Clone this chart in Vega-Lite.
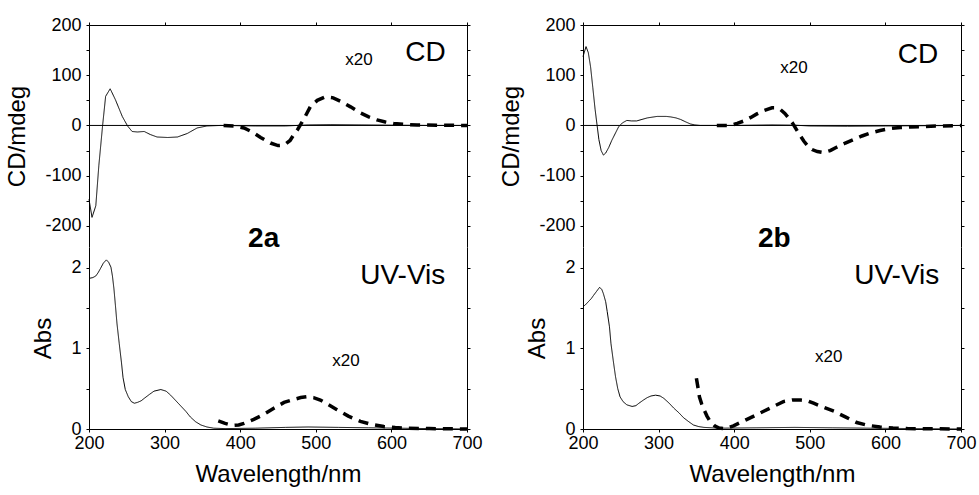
{
  "$schema": "https://vega.github.io/schema/vega-lite/v6.json",
  "background": "white",
  "padding": {"left": 5, "top": 16, "right": 2, "bottom": 5},
  "config": {
    "view": {"stroke": null},
    "font": "Liberation Sans",
    "axis": {"grid": false, "labelFlush": false, "domainColor": "black", "tickColor": "black", "labelColor": "black", "titleColor": "black", "labelFont": "Liberation Sans", "titleFont": "Liberation Sans", "labelFontSize": 18, "titleFontSize": 24, "titleFontWeight": "normal", "tickSize": 3, "domainWidth": 1, "tickWidth": 1},
    "axisX": {"labelPadding": 2, "titlePadding": 10},
    "axisY": {"labelPadding": 5, "titlePadding": 15},
    "concat": {"spacing": 16}
  },
  "datasets": {
    "curves": [
      {"p":"a","sec":"cd","s":"x1","nm":200,"v":-147},{"p":"a","sec":"cd","s":"x1","nm":204,"v":-183},{"p":"a","sec":"cd","s":"x1","nm":209,"v":-160},{"p":"a","sec":"cd","s":"x1","nm":213,"v":-80},{"p":"a","sec":"cd","s":"x1","nm":218,"v":0},{"p":"a","sec":"cd","s":"x1","nm":222,"v":58},{"p":"a","sec":"cd","s":"x1","nm":228,"v":73},{"p":"a","sec":"cd","s":"x1","nm":235,"v":51},{"p":"a","sec":"cd","s":"x1","nm":244,"v":18},{"p":"a","sec":"cd","s":"x1","nm":251,"v":-1},{"p":"a","sec":"cd","s":"x1","nm":257,"v":-12},{"p":"a","sec":"cd","s":"x1","nm":264,"v":-13},{"p":"a","sec":"cd","s":"x1","nm":273,"v":-12},{"p":"a","sec":"cd","s":"x1","nm":281,"v":-18},{"p":"a","sec":"cd","s":"x1","nm":290,"v":-23},{"p":"a","sec":"cd","s":"x1","nm":304,"v":-24},{"p":"a","sec":"cd","s":"x1","nm":317,"v":-23},{"p":"a","sec":"cd","s":"x1","nm":330,"v":-16},{"p":"a","sec":"cd","s":"x1","nm":343,"v":-5},{"p":"a","sec":"cd","s":"x1","nm":356,"v":-1},{"p":"a","sec":"cd","s":"x1","nm":374,"v":0},{"p":"a","sec":"cd","s":"x1","nm":420,"v":-1},{"p":"a","sec":"cd","s":"x1","nm":460,"v":-1},{"p":"a","sec":"cd","s":"x1","nm":490,"v":1},{"p":"a","sec":"cd","s":"x1","nm":520,"v":1.5},{"p":"a","sec":"cd","s":"x1","nm":560,"v":1},{"p":"a","sec":"cd","s":"x1","nm":600,"v":0.5},{"p":"a","sec":"cd","s":"x1","nm":650,"v":0},{"p":"a","sec":"cd","s":"x1","nm":700,"v":0},
      {"p":"a","sec":"cd","s":"x20","nm":378,"v":0},{"p":"a","sec":"cd","s":"x20","nm":392,"v":-1},{"p":"a","sec":"cd","s":"x20","nm":405,"v":-5},{"p":"a","sec":"cd","s":"x20","nm":416,"v":-13},{"p":"a","sec":"cd","s":"x20","nm":427,"v":-24},{"p":"a","sec":"cd","s":"x20","nm":440,"v":-35},{"p":"a","sec":"cd","s":"x20","nm":450,"v":-40},{"p":"a","sec":"cd","s":"x20","nm":458,"v":-39},{"p":"a","sec":"cd","s":"x20","nm":466,"v":-30},{"p":"a","sec":"cd","s":"x20","nm":471,"v":-18},{"p":"a","sec":"cd","s":"x20","nm":476,"v":-8},{"p":"a","sec":"cd","s":"x20","nm":480,"v":2},{"p":"a","sec":"cd","s":"x20","nm":486,"v":18},{"p":"a","sec":"cd","s":"x20","nm":493,"v":38},{"p":"a","sec":"cd","s":"x20","nm":502,"v":50},{"p":"a","sec":"cd","s":"x20","nm":513,"v":57},{"p":"a","sec":"cd","s":"x20","nm":523,"v":55},{"p":"a","sec":"cd","s":"x20","nm":533,"v":48},{"p":"a","sec":"cd","s":"x20","nm":546,"v":37},{"p":"a","sec":"cd","s":"x20","nm":559,"v":25},{"p":"a","sec":"cd","s":"x20","nm":570,"v":17},{"p":"a","sec":"cd","s":"x20","nm":581,"v":11},{"p":"a","sec":"cd","s":"x20","nm":592,"v":7},{"p":"a","sec":"cd","s":"x20","nm":603,"v":4},{"p":"a","sec":"cd","s":"x20","nm":618,"v":2},{"p":"a","sec":"cd","s":"x20","nm":634,"v":1},{"p":"a","sec":"cd","s":"x20","nm":660,"v":0.5},{"p":"a","sec":"cd","s":"x20","nm":700,"v":0},
      {"p":"b","sec":"cd","s":"x1","nm":200,"v":137},{"p":"b","sec":"cd","s":"x1","nm":204,"v":157},{"p":"b","sec":"cd","s":"x1","nm":207,"v":145},{"p":"b","sec":"cd","s":"x1","nm":210,"v":117},{"p":"b","sec":"cd","s":"x1","nm":213,"v":75},{"p":"b","sec":"cd","s":"x1","nm":216,"v":32},{"p":"b","sec":"cd","s":"x1","nm":221,"v":-28},{"p":"b","sec":"cd","s":"x1","nm":224,"v":-50},{"p":"b","sec":"cd","s":"x1","nm":227,"v":-59},{"p":"b","sec":"cd","s":"x1","nm":230,"v":-55},{"p":"b","sec":"cd","s":"x1","nm":234,"v":-44},{"p":"b","sec":"cd","s":"x1","nm":238,"v":-30},{"p":"b","sec":"cd","s":"x1","nm":243,"v":-15},{"p":"b","sec":"cd","s":"x1","nm":247,"v":-3},{"p":"b","sec":"cd","s":"x1","nm":252,"v":5},{"p":"b","sec":"cd","s":"x1","nm":258,"v":10},{"p":"b","sec":"cd","s":"x1","nm":264,"v":9},{"p":"b","sec":"cd","s":"x1","nm":271,"v":9},{"p":"b","sec":"cd","s":"x1","nm":278,"v":12},{"p":"b","sec":"cd","s":"x1","nm":285,"v":15},{"p":"b","sec":"cd","s":"x1","nm":298,"v":18},{"p":"b","sec":"cd","s":"x1","nm":310,"v":18},{"p":"b","sec":"cd","s":"x1","nm":316,"v":17},{"p":"b","sec":"cd","s":"x1","nm":323,"v":15},{"p":"b","sec":"cd","s":"x1","nm":329,"v":12},{"p":"b","sec":"cd","s":"x1","nm":336,"v":7},{"p":"b","sec":"cd","s":"x1","nm":342,"v":3},{"p":"b","sec":"cd","s":"x1","nm":348,"v":1},{"p":"b","sec":"cd","s":"x1","nm":355,"v":0},{"p":"b","sec":"cd","s":"x1","nm":400,"v":0},{"p":"b","sec":"cd","s":"x1","nm":450,"v":1},{"p":"b","sec":"cd","s":"x1","nm":480,"v":0.5},{"p":"b","sec":"cd","s":"x1","nm":500,"v":-1},{"p":"b","sec":"cd","s":"x1","nm":550,"v":-1.5},{"p":"b","sec":"cd","s":"x1","nm":600,"v":-1},{"p":"b","sec":"cd","s":"x1","nm":650,"v":-0.5},{"p":"b","sec":"cd","s":"x1","nm":700,"v":0},
      {"p":"b","sec":"cd","s":"x20","nm":377,"v":0},{"p":"b","sec":"cd","s":"x20","nm":395,"v":0},{"p":"b","sec":"cd","s":"x20","nm":404,"v":4},{"p":"b","sec":"cd","s":"x20","nm":413,"v":9},{"p":"b","sec":"cd","s":"x20","nm":422,"v":16},{"p":"b","sec":"cd","s":"x20","nm":430,"v":23},{"p":"b","sec":"cd","s":"x20","nm":440,"v":30},{"p":"b","sec":"cd","s":"x20","nm":450,"v":35},{"p":"b","sec":"cd","s":"x20","nm":456,"v":35},{"p":"b","sec":"cd","s":"x20","nm":461,"v":32},{"p":"b","sec":"cd","s":"x20","nm":467,"v":24},{"p":"b","sec":"cd","s":"x20","nm":472,"v":15},{"p":"b","sec":"cd","s":"x20","nm":477,"v":5},{"p":"b","sec":"cd","s":"x20","nm":481,"v":-5},{"p":"b","sec":"cd","s":"x20","nm":486,"v":-17},{"p":"b","sec":"cd","s":"x20","nm":492,"v":-31},{"p":"b","sec":"cd","s":"x20","nm":498,"v":-42},{"p":"b","sec":"cd","s":"x20","nm":503,"v":-48},{"p":"b","sec":"cd","s":"x20","nm":510,"v":-52},{"p":"b","sec":"cd","s":"x20","nm":518,"v":-54},{"p":"b","sec":"cd","s":"x20","nm":527,"v":-50},{"p":"b","sec":"cd","s":"x20","nm":536,"v":-43},{"p":"b","sec":"cd","s":"x20","nm":547,"v":-35},{"p":"b","sec":"cd","s":"x20","nm":558,"v":-28},{"p":"b","sec":"cd","s":"x20","nm":569,"v":-21},{"p":"b","sec":"cd","s":"x20","nm":580,"v":-15},{"p":"b","sec":"cd","s":"x20","nm":593,"v":-10},{"p":"b","sec":"cd","s":"x20","nm":607,"v":-6},{"p":"b","sec":"cd","s":"x20","nm":620,"v":-4},{"p":"b","sec":"cd","s":"x20","nm":633,"v":-3},{"p":"b","sec":"cd","s":"x20","nm":660,"v":-1.5},{"p":"b","sec":"cd","s":"x20","nm":700,"v":0},
      {"p":"a","sec":"abs","s":"x1","nm":200,"v":1.87},{"p":"a","sec":"abs","s":"x1","nm":205,"v":1.88},{"p":"a","sec":"abs","s":"x1","nm":209,"v":1.9},{"p":"a","sec":"abs","s":"x1","nm":212,"v":1.94},{"p":"a","sec":"abs","s":"x1","nm":215,"v":1.99},{"p":"a","sec":"abs","s":"x1","nm":219,"v":2.06},{"p":"a","sec":"abs","s":"x1","nm":223,"v":2.1},{"p":"a","sec":"abs","s":"x1","nm":226,"v":2.07},{"p":"a","sec":"abs","s":"x1","nm":229,"v":2.01},{"p":"a","sec":"abs","s":"x1","nm":231,"v":1.9},{"p":"a","sec":"abs","s":"x1","nm":233,"v":1.74},{"p":"a","sec":"abs","s":"x1","nm":235,"v":1.53},{"p":"a","sec":"abs","s":"x1","nm":237,"v":1.31},{"p":"a","sec":"abs","s":"x1","nm":240,"v":1.06},{"p":"a","sec":"abs","s":"x1","nm":243,"v":0.82},{"p":"a","sec":"abs","s":"x1","nm":245,"v":0.64},{"p":"a","sec":"abs","s":"x1","nm":248,"v":0.49},{"p":"a","sec":"abs","s":"x1","nm":252,"v":0.4},{"p":"a","sec":"abs","s":"x1","nm":256,"v":0.34},{"p":"a","sec":"abs","s":"x1","nm":260,"v":0.32},{"p":"a","sec":"abs","s":"x1","nm":264,"v":0.33},{"p":"a","sec":"abs","s":"x1","nm":269,"v":0.35},{"p":"a","sec":"abs","s":"x1","nm":273,"v":0.38},{"p":"a","sec":"abs","s":"x1","nm":280,"v":0.43},{"p":"a","sec":"abs","s":"x1","nm":286,"v":0.47},{"p":"a","sec":"abs","s":"x1","nm":295,"v":0.49},{"p":"a","sec":"abs","s":"x1","nm":302,"v":0.47},{"p":"a","sec":"abs","s":"x1","nm":308,"v":0.42},{"p":"a","sec":"abs","s":"x1","nm":315,"v":0.35},{"p":"a","sec":"abs","s":"x1","nm":321,"v":0.29},{"p":"a","sec":"abs","s":"x1","nm":328,"v":0.22},{"p":"a","sec":"abs","s":"x1","nm":334,"v":0.15},{"p":"a","sec":"abs","s":"x1","nm":341,"v":0.09},{"p":"a","sec":"abs","s":"x1","nm":348,"v":0.05},{"p":"a","sec":"abs","s":"x1","nm":356,"v":0.025},{"p":"a","sec":"abs","s":"x1","nm":365,"v":0.01},{"p":"a","sec":"abs","s":"x1","nm":380,"v":0.005},{"p":"a","sec":"abs","s":"x1","nm":420,"v":0.01},{"p":"a","sec":"abs","s":"x1","nm":460,"v":0.02},{"p":"a","sec":"abs","s":"x1","nm":490,"v":0.025},{"p":"a","sec":"abs","s":"x1","nm":530,"v":0.02},{"p":"a","sec":"abs","s":"x1","nm":570,"v":0.015},{"p":"a","sec":"abs","s":"x1","nm":610,"v":0.01},{"p":"a","sec":"abs","s":"x1","nm":650,"v":0.005},{"p":"a","sec":"abs","s":"x1","nm":700,"v":0},
      {"p":"a","sec":"abs","s":"x20","nm":371,"v":0.1},{"p":"a","sec":"abs","s":"x20","nm":380,"v":0.07},{"p":"a","sec":"abs","s":"x20","nm":390,"v":0.045},{"p":"a","sec":"abs","s":"x20","nm":398,"v":0.05},{"p":"a","sec":"abs","s":"x20","nm":405,"v":0.07},{"p":"a","sec":"abs","s":"x20","nm":418,"v":0.12},{"p":"a","sec":"abs","s":"x20","nm":431,"v":0.18},{"p":"a","sec":"abs","s":"x20","nm":445,"v":0.26},{"p":"a","sec":"abs","s":"x20","nm":458,"v":0.33},{"p":"a","sec":"abs","s":"x20","nm":472,"v":0.37},{"p":"a","sec":"abs","s":"x20","nm":480,"v":0.39},{"p":"a","sec":"abs","s":"x20","nm":488,"v":0.4},{"p":"a","sec":"abs","s":"x20","nm":497,"v":0.39},{"p":"a","sec":"abs","s":"x20","nm":506,"v":0.36},{"p":"a","sec":"abs","s":"x20","nm":517,"v":0.3},{"p":"a","sec":"abs","s":"x20","nm":528,"v":0.24},{"p":"a","sec":"abs","s":"x20","nm":543,"v":0.16},{"p":"a","sec":"abs","s":"x20","nm":559,"v":0.095},{"p":"a","sec":"abs","s":"x20","nm":575,"v":0.055},{"p":"a","sec":"abs","s":"x20","nm":590,"v":0.03},{"p":"a","sec":"abs","s":"x20","nm":605,"v":0.018},{"p":"a","sec":"abs","s":"x20","nm":621,"v":0.01},{"p":"a","sec":"abs","s":"x20","nm":650,"v":0.005},{"p":"a","sec":"abs","s":"x20","nm":700,"v":0},
      {"p":"b","sec":"abs","s":"x1","nm":200,"v":1.52},{"p":"b","sec":"abs","s":"x1","nm":203,"v":1.54},{"p":"b","sec":"abs","s":"x1","nm":207,"v":1.58},{"p":"b","sec":"abs","s":"x1","nm":211,"v":1.62},{"p":"b","sec":"abs","s":"x1","nm":214,"v":1.66},{"p":"b","sec":"abs","s":"x1","nm":218,"v":1.71},{"p":"b","sec":"abs","s":"x1","nm":222,"v":1.76},{"p":"b","sec":"abs","s":"x1","nm":225,"v":1.73},{"p":"b","sec":"abs","s":"x1","nm":227,"v":1.68},{"p":"b","sec":"abs","s":"x1","nm":230,"v":1.58},{"p":"b","sec":"abs","s":"x1","nm":232,"v":1.46},{"p":"b","sec":"abs","s":"x1","nm":235,"v":1.27},{"p":"b","sec":"abs","s":"x1","nm":237,"v":1.06},{"p":"b","sec":"abs","s":"x1","nm":240,"v":0.85},{"p":"b","sec":"abs","s":"x1","nm":243,"v":0.65},{"p":"b","sec":"abs","s":"x1","nm":246,"v":0.5},{"p":"b","sec":"abs","s":"x1","nm":249,"v":0.4},{"p":"b","sec":"abs","s":"x1","nm":253,"v":0.34},{"p":"b","sec":"abs","s":"x1","nm":258,"v":0.3},{"p":"b","sec":"abs","s":"x1","nm":265,"v":0.28},{"p":"b","sec":"abs","s":"x1","nm":270,"v":0.29},{"p":"b","sec":"abs","s":"x1","nm":274,"v":0.32},{"p":"b","sec":"abs","s":"x1","nm":280,"v":0.36},{"p":"b","sec":"abs","s":"x1","nm":285,"v":0.39},{"p":"b","sec":"abs","s":"x1","nm":290,"v":0.41},{"p":"b","sec":"abs","s":"x1","nm":296,"v":0.42},{"p":"b","sec":"abs","s":"x1","nm":302,"v":0.41},{"p":"b","sec":"abs","s":"x1","nm":307,"v":0.38},{"p":"b","sec":"abs","s":"x1","nm":314,"v":0.32},{"p":"b","sec":"abs","s":"x1","nm":320,"v":0.26},{"p":"b","sec":"abs","s":"x1","nm":327,"v":0.2},{"p":"b","sec":"abs","s":"x1","nm":333,"v":0.14},{"p":"b","sec":"abs","s":"x1","nm":340,"v":0.09},{"p":"b","sec":"abs","s":"x1","nm":346,"v":0.05},{"p":"b","sec":"abs","s":"x1","nm":353,"v":0.03},{"p":"b","sec":"abs","s":"x1","nm":360,"v":0.02},{"p":"b","sec":"abs","s":"x1","nm":380,"v":0.01},{"p":"b","sec":"abs","s":"x1","nm":430,"v":0.015},{"p":"b","sec":"abs","s":"x1","nm":480,"v":0.02},{"p":"b","sec":"abs","s":"x1","nm":530,"v":0.015},{"p":"b","sec":"abs","s":"x1","nm":580,"v":0.01},{"p":"b","sec":"abs","s":"x1","nm":640,"v":0.005},{"p":"b","sec":"abs","s":"x1","nm":700,"v":0},
      {"p":"b","sec":"abs","s":"x20","nm":350,"v":0.63},{"p":"b","sec":"abs","s":"x20","nm":352,"v":0.52},{"p":"b","sec":"abs","s":"x20","nm":354,"v":0.4},{"p":"b","sec":"abs","s":"x20","nm":357,"v":0.31},{"p":"b","sec":"abs","s":"x20","nm":360,"v":0.24},{"p":"b","sec":"abs","s":"x20","nm":364,"v":0.16},{"p":"b","sec":"abs","s":"x20","nm":368,"v":0.095},{"p":"b","sec":"abs","s":"x20","nm":374,"v":0.04},{"p":"b","sec":"abs","s":"x20","nm":380,"v":0.012},{"p":"b","sec":"abs","s":"x20","nm":386,"v":0.005},{"p":"b","sec":"abs","s":"x20","nm":392,"v":0.015},{"p":"b","sec":"abs","s":"x20","nm":399,"v":0.04},{"p":"b","sec":"abs","s":"x20","nm":408,"v":0.08},{"p":"b","sec":"abs","s":"x20","nm":417,"v":0.12},{"p":"b","sec":"abs","s":"x20","nm":428,"v":0.17},{"p":"b","sec":"abs","s":"x20","nm":439,"v":0.22},{"p":"b","sec":"abs","s":"x20","nm":452,"v":0.28},{"p":"b","sec":"abs","s":"x20","nm":465,"v":0.34},{"p":"b","sec":"abs","s":"x20","nm":477,"v":0.36},{"p":"b","sec":"abs","s":"x20","nm":488,"v":0.36},{"p":"b","sec":"abs","s":"x20","nm":497,"v":0.35},{"p":"b","sec":"abs","s":"x20","nm":505,"v":0.32},{"p":"b","sec":"abs","s":"x20","nm":518,"v":0.27},{"p":"b","sec":"abs","s":"x20","nm":532,"v":0.22},{"p":"b","sec":"abs","s":"x20","nm":547,"v":0.15},{"p":"b","sec":"abs","s":"x20","nm":562,"v":0.08},{"p":"b","sec":"abs","s":"x20","nm":577,"v":0.045},{"p":"b","sec":"abs","s":"x20","nm":593,"v":0.025},{"p":"b","sec":"abs","s":"x20","nm":610,"v":0.012},{"p":"b","sec":"abs","s":"x20","nm":629,"v":0.005},{"p":"b","sec":"abs","s":"x20","nm":660,"v":0.003},{"p":"b","sec":"abs","s":"x20","nm":700,"v":0}
    ],
    "labels": [
      {"p":"a","sec":"cd","role":"factor","nm":557,"v":131,"t":"x20"},
      {"p":"a","sec":"cd","role":"method","nm":645,"v":145,"t":"CD"},
      {"p":"a","sec":"cd","role":"compound","nm":431,"v":-226,"t":"2a"},
      {"p":"a","sec":"abs","role":"method","nm":615,"v":1.9,"t":"UV-Vis"},
      {"p":"a","sec":"abs","role":"factor","nm":540,"v":0.84,"t":"x20"},
      {"p":"b","sec":"cd","role":"factor","nm":479,"v":115,"t":"x20"},
      {"p":"b","sec":"cd","role":"method","nm":643,"v":141,"t":"CD"},
      {"p":"b","sec":"cd","role":"compound","nm":453,"v":-226,"t":"2b"},
      {"p":"b","sec":"abs","role":"method","nm":615,"v":1.9,"t":"UV-Vis"},
      {"p":"b","sec":"abs","role":"factor","nm":525,"v":0.9,"t":"x20"}
    ],
    "zero": [{"v": 0}]
  },
  "hconcat": [
    {
      "vconcat": [
        {
          "width": 378, "height": 222,
          "resolve": {"axis": {"y": "independent"}},
          "layer": [
            {
              "data": {"name": "curves"},
              "transform": [{"filter": "datum.p == 'a' && datum.sec == 'cd'"}],
              "mark": {"type": "line", "color": "black", "strokeCap": "butt"},
              "encoding": {
                "x": {"field": "nm", "type": "quantitative", "scale": {"domain": [200, 700], "nice": false, "zero": false}, "axis": {"orient": "top", "labels": false, "title": null, "values": [200,250,300,350,400,450,500,550,600,650,700]}},
                "y": {"field": "v", "type": "quantitative", "scale": {"domain": [-242, 200], "nice": false, "zero": false}, "axis": {"orient": "left", "title": "CD/mdeg", "values": [-200,-150,-100,-50,0,50,100,150,200], "labelExpr": "datum.value % 100 == 0 ? '' + datum.value : ''"}},
                "detail": {"field": "s"},
                "strokeDash": {"field": "s", "type": "nominal", "scale": {"domain": ["x1","x20"], "range": [[1,0],[10,7]]}, "legend": null},
                "strokeWidth": {"field": "s", "type": "nominal", "scale": {"domain": ["x1","x20"], "range": [1,3.5]}, "legend": null}
              }
            },
            {
              "data": {"name": "zero"},
              "mark": {"type": "rule", "color": "black", "strokeWidth": 1},
              "encoding": {
                "y": {"field": "v", "type": "quantitative", "scale": {"domain": [-242, 200], "nice": false, "zero": false}, "axis": {"orient": "right", "labels": false, "title": null, "values": [-200,-150,-100,-50,0,50,100,150,200]}}
              }
            },
            {
              "data": {"name": "labels"},
              "transform": [{"filter": "datum.p == 'a' && datum.sec == 'cd' && datum.role == 'factor'"}],
              "mark": {"type": "text", "fontSize": 17, "color": "black"},
              "encoding": {"x": {"field": "nm", "type": "quantitative", "scale": {"domain": [200, 700], "nice": false, "zero": false}}, "y": {"field": "v", "type": "quantitative", "scale": {"domain": [-242, 200], "nice": false, "zero": false}, "axis": null}, "text": {"field": "t"}}
            },
            {
              "data": {"name": "labels"},
              "transform": [{"filter": "datum.p == 'a' && datum.sec == 'cd' && datum.role == 'method'"}],
              "mark": {"type": "text", "fontSize": 28, "color": "black"},
              "encoding": {"x": {"field": "nm", "type": "quantitative", "scale": {"domain": [200, 700], "nice": false, "zero": false}}, "y": {"field": "v", "type": "quantitative", "scale": {"domain": [-242, 200], "nice": false, "zero": false}, "axis": null}, "text": {"field": "t"}}
            },
            {
              "data": {"name": "labels"},
              "transform": [{"filter": "datum.p == 'a' && datum.sec == 'cd' && datum.role == 'compound'"}],
              "mark": {"type": "text", "fontSize": 28, "fontWeight": "bold", "color": "black"},
              "encoding": {"x": {"field": "nm", "type": "quantitative", "scale": {"domain": [200, 700], "nice": false, "zero": false}}, "y": {"field": "v", "type": "quantitative", "scale": {"domain": [-242, 200], "nice": false, "zero": false}, "axis": null}, "text": {"field": "t"}}
            }
          ]
        },
        {
          "width": 378, "height": 182,
          "resolve": {"axis": {"y": "independent"}},
          "layer": [
            {
              "data": {"name": "curves"},
              "transform": [{"filter": "datum.p == 'a' && datum.sec == 'abs'"}],
              "mark": {"type": "line", "color": "black", "strokeCap": "butt"},
              "encoding": {
                "x": {"field": "nm", "type": "quantitative", "scale": {"domain": [200, 700], "nice": false, "zero": false}, "axis": {"orient": "bottom", "title": "Wavelength/nm", "values": [200,250,300,350,400,450,500,550,600,650,700], "labelExpr": "datum.value % 100 == 0 ? datum.label : ''"}},
                "y": {"field": "v", "type": "quantitative", "scale": {"domain": [0, 2.26], "nice": false, "zero": false}, "axis": {"orient": "left", "title": "Abs", "values": [0,0.5,1,1.5,2], "labelExpr": "datum.value % 1 == 0 ? '' + datum.value : ''"}},
                "detail": {"field": "s"},
                "strokeDash": {"field": "s", "type": "nominal", "scale": {"domain": ["x1","x20"], "range": [[1,0],[10,7]]}, "legend": null},
                "strokeWidth": {"field": "s", "type": "nominal", "scale": {"domain": ["x1","x20"], "range": [1,3.5]}, "legend": null}
              }
            },
            {
              "data": {"name": "zero"},
              "mark": {"type": "rule", "color": "black", "strokeWidth": 1, "opacity": 0},
              "encoding": {
                "y": {"field": "v", "type": "quantitative", "scale": {"domain": [0, 2.26], "nice": false, "zero": false}, "axis": {"orient": "right", "labels": false, "title": null, "values": [0,0.5,1,1.5,2]}}
              }
            },
            {
              "data": {"name": "labels"},
              "transform": [{"filter": "datum.p == 'a' && datum.sec == 'abs' && datum.role == 'factor'"}],
              "mark": {"type": "text", "fontSize": 17, "color": "black"},
              "encoding": {"x": {"field": "nm", "type": "quantitative", "scale": {"domain": [200, 700], "nice": false, "zero": false}}, "y": {"field": "v", "type": "quantitative", "scale": {"domain": [0, 2.26], "nice": false, "zero": false}, "axis": null}, "text": {"field": "t"}}
            },
            {
              "data": {"name": "labels"},
              "transform": [{"filter": "datum.p == 'a' && datum.sec == 'abs' && datum.role == 'method'"}],
              "mark": {"type": "text", "fontSize": 28, "color": "black"},
              "encoding": {"x": {"field": "nm", "type": "quantitative", "scale": {"domain": [200, 700], "nice": false, "zero": false}}, "y": {"field": "v", "type": "quantitative", "scale": {"domain": [0, 2.26], "nice": false, "zero": false}, "axis": null}, "text": {"field": "t"}}
            }
          ]
        }
      ],
      "spacing": 0,
      "bounds": "flush"
    },
    {
      "vconcat": [
        {
          "width": 378, "height": 222,
          "resolve": {"axis": {"y": "independent"}},
          "layer": [
            {
              "data": {"name": "curves"},
              "transform": [{"filter": "datum.p == 'b' && datum.sec == 'cd'"}],
              "mark": {"type": "line", "color": "black", "strokeCap": "butt"},
              "encoding": {
                "x": {"field": "nm", "type": "quantitative", "scale": {"domain": [200, 700], "nice": false, "zero": false}, "axis": {"orient": "top", "labels": false, "title": null, "values": [200,250,300,350,400,450,500,550,600,650,700]}},
                "y": {"field": "v", "type": "quantitative", "scale": {"domain": [-242, 200], "nice": false, "zero": false}, "axis": {"orient": "left", "title": "CD/mdeg", "values": [-200,-150,-100,-50,0,50,100,150,200], "labelExpr": "datum.value % 100 == 0 ? '' + datum.value : ''"}},
                "detail": {"field": "s"},
                "strokeDash": {"field": "s", "type": "nominal", "scale": {"domain": ["x1","x20"], "range": [[1,0],[10,7]]}, "legend": null},
                "strokeWidth": {"field": "s", "type": "nominal", "scale": {"domain": ["x1","x20"], "range": [1,3.5]}, "legend": null}
              }
            },
            {
              "data": {"name": "zero"},
              "mark": {"type": "rule", "color": "black", "strokeWidth": 1},
              "encoding": {
                "y": {"field": "v", "type": "quantitative", "scale": {"domain": [-242, 200], "nice": false, "zero": false}, "axis": {"orient": "right", "labels": false, "title": null, "values": [-200,-150,-100,-50,0,50,100,150,200]}}
              }
            },
            {
              "data": {"name": "labels"},
              "transform": [{"filter": "datum.p == 'b' && datum.sec == 'cd' && datum.role == 'factor'"}],
              "mark": {"type": "text", "fontSize": 17, "color": "black"},
              "encoding": {"x": {"field": "nm", "type": "quantitative", "scale": {"domain": [200, 700], "nice": false, "zero": false}}, "y": {"field": "v", "type": "quantitative", "scale": {"domain": [-242, 200], "nice": false, "zero": false}, "axis": null}, "text": {"field": "t"}}
            },
            {
              "data": {"name": "labels"},
              "transform": [{"filter": "datum.p == 'b' && datum.sec == 'cd' && datum.role == 'method'"}],
              "mark": {"type": "text", "fontSize": 28, "color": "black"},
              "encoding": {"x": {"field": "nm", "type": "quantitative", "scale": {"domain": [200, 700], "nice": false, "zero": false}}, "y": {"field": "v", "type": "quantitative", "scale": {"domain": [-242, 200], "nice": false, "zero": false}, "axis": null}, "text": {"field": "t"}}
            },
            {
              "data": {"name": "labels"},
              "transform": [{"filter": "datum.p == 'b' && datum.sec == 'cd' && datum.role == 'compound'"}],
              "mark": {"type": "text", "fontSize": 28, "fontWeight": "bold", "color": "black"},
              "encoding": {"x": {"field": "nm", "type": "quantitative", "scale": {"domain": [200, 700], "nice": false, "zero": false}}, "y": {"field": "v", "type": "quantitative", "scale": {"domain": [-242, 200], "nice": false, "zero": false}, "axis": null}, "text": {"field": "t"}}
            }
          ]
        },
        {
          "width": 378, "height": 182,
          "resolve": {"axis": {"y": "independent"}},
          "layer": [
            {
              "data": {"name": "curves"},
              "transform": [{"filter": "datum.p == 'b' && datum.sec == 'abs'"}],
              "mark": {"type": "line", "color": "black", "strokeCap": "butt"},
              "encoding": {
                "x": {"field": "nm", "type": "quantitative", "scale": {"domain": [200, 700], "nice": false, "zero": false}, "axis": {"orient": "bottom", "title": "Wavelength/nm", "values": [200,250,300,350,400,450,500,550,600,650,700], "labelExpr": "datum.value % 100 == 0 ? datum.label : ''"}},
                "y": {"field": "v", "type": "quantitative", "scale": {"domain": [0, 2.26], "nice": false, "zero": false}, "axis": {"orient": "left", "title": "Abs", "values": [0,0.5,1,1.5,2], "labelExpr": "datum.value % 1 == 0 ? '' + datum.value : ''"}},
                "detail": {"field": "s"},
                "strokeDash": {"field": "s", "type": "nominal", "scale": {"domain": ["x1","x20"], "range": [[1,0],[10,7]]}, "legend": null},
                "strokeWidth": {"field": "s", "type": "nominal", "scale": {"domain": ["x1","x20"], "range": [1,3.5]}, "legend": null}
              }
            },
            {
              "data": {"name": "zero"},
              "mark": {"type": "rule", "color": "black", "strokeWidth": 1, "opacity": 0},
              "encoding": {
                "y": {"field": "v", "type": "quantitative", "scale": {"domain": [0, 2.26], "nice": false, "zero": false}, "axis": {"orient": "right", "labels": false, "title": null, "values": [0,0.5,1,1.5,2]}}
              }
            },
            {
              "data": {"name": "labels"},
              "transform": [{"filter": "datum.p == 'b' && datum.sec == 'abs' && datum.role == 'factor'"}],
              "mark": {"type": "text", "fontSize": 17, "color": "black"},
              "encoding": {"x": {"field": "nm", "type": "quantitative", "scale": {"domain": [200, 700], "nice": false, "zero": false}}, "y": {"field": "v", "type": "quantitative", "scale": {"domain": [0, 2.26], "nice": false, "zero": false}, "axis": null}, "text": {"field": "t"}}
            },
            {
              "data": {"name": "labels"},
              "transform": [{"filter": "datum.p == 'b' && datum.sec == 'abs' && datum.role == 'method'"}],
              "mark": {"type": "text", "fontSize": 28, "color": "black"},
              "encoding": {"x": {"field": "nm", "type": "quantitative", "scale": {"domain": [200, 700], "nice": false, "zero": false}}, "y": {"field": "v", "type": "quantitative", "scale": {"domain": [0, 2.26], "nice": false, "zero": false}, "axis": null}, "text": {"field": "t"}}
            }
          ]
        }
      ],
      "spacing": 0,
      "bounds": "flush"
    }
  ]
}
